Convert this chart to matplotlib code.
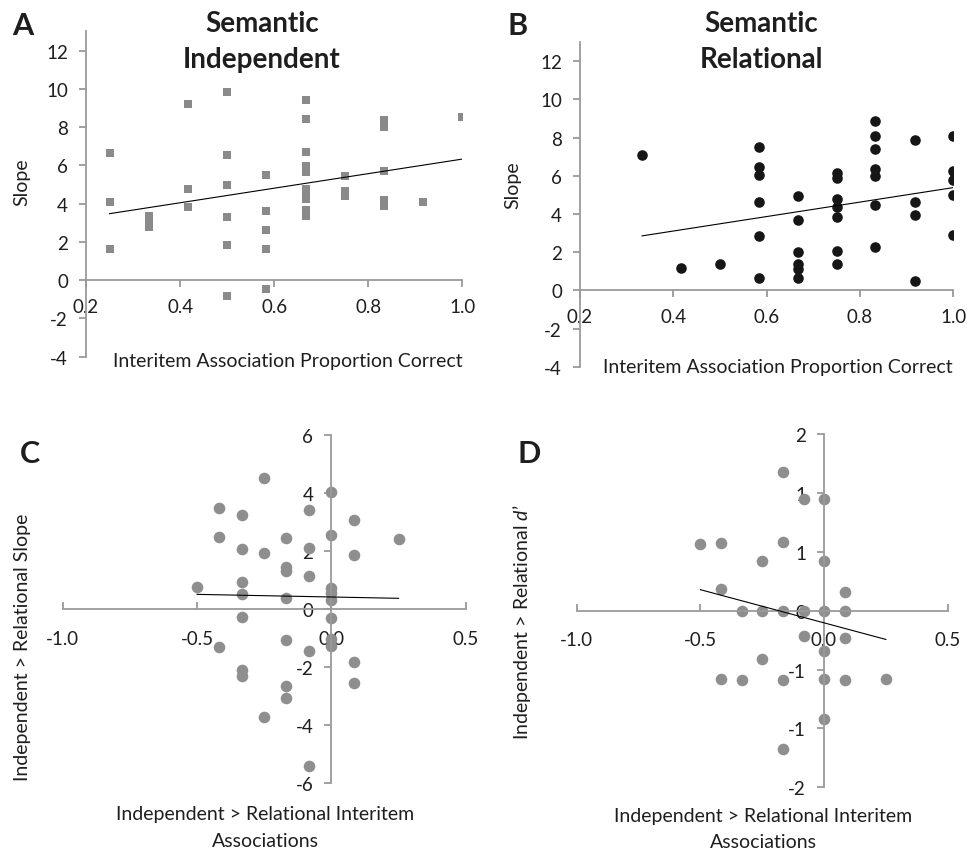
import numpy as np
import matplotlib
matplotlib.use('Agg')
import matplotlib.pyplot as plt
from matplotlib.ticker import FixedLocator, FixedFormatter

plt.rcParams['font.family'] = ['Lato', 'DejaVu Sans']
plt.rcParams['mathtext.fontset'] = 'custom'
plt.rcParams['mathtext.it'] = 'Lato:italic'
plt.rcParams['mathtext.rm'] = 'Lato'

# ---------------- data ----------------
# Panel A: Semantic Independent (x = proportion correct, y = slope)
a_x = [0.25, 0.25, 0.25,
       0.333, 0.333, 0.333,
       0.417, 0.417, 0.417,
       0.5, 0.5, 0.5, 0.5, 0.5, 0.5,
       0.583, 0.583, 0.583, 0.583, 0.583,
       0.667, 0.667, 0.667, 0.667, 0.667, 0.667, 0.667, 0.667, 0.667, 0.667,
       0.75, 0.75, 0.75,
       0.833, 0.833, 0.833, 0.833, 0.833,
       0.917,
       1.0]
a_y = [6.67, 4.11, 1.65,
       3.33, 3.05, 2.79,
       9.23, 4.74, 3.80,
       9.81, 6.55, 4.97, 3.28, 1.83, -0.85,
       5.52, 3.64, 2.60, 1.62, -0.44,
       9.44, 8.40, 6.72, 5.98, 5.63, 4.79, 4.49, 4.23, 3.68, 3.36,
       5.45, 4.67, 4.41,
       8.38, 8.01, 5.68, 4.18, 3.89,
       4.06,
       8.55]

# Panel B: Semantic Relational
b_x = [0.333,
       0.417,
       0.5,
       0.583, 0.583, 0.583, 0.583, 0.583, 0.583,
       0.667, 0.667, 0.667, 0.667, 0.667, 0.667,
       0.75, 0.75, 0.75, 0.75, 0.75, 0.75, 0.75,
       0.833, 0.833, 0.833, 0.833, 0.833, 0.833, 0.833,
       0.917, 0.917, 0.917, 0.917,
       1.0, 1.0, 1.0, 1.0, 1.0]
b_y = [7.08,
       1.19,
       1.40,
       7.49, 6.47, 6.05, 4.65, 2.85, 0.66,
       4.92, 3.67, 2.03, 1.36, 1.10, 0.66,
       6.14, 5.91, 4.78, 4.39, 3.85, 2.06, 1.36,
       8.89, 8.10, 7.40, 6.38, 6.00, 4.46, 2.27,
       7.87, 4.65, 3.95, 0.49,
       8.06, 6.23, 5.77, 5.00, 2.92]

# Panel C: Independent > Relational interitem associations vs slope difference
c_x = [-0.5,
       -0.417, -0.417, -0.417,
       -0.333, -0.333, -0.333, -0.333, -0.333, -0.333, -0.333,
       -0.25, -0.25, -0.25,
       -0.167, -0.167, -0.167, -0.167, -0.167, -0.167, -0.167,
       -0.083, -0.083, -0.083, -0.083, -0.083,
       0.0, 0.0, 0.0, 0.0, 0.0, 0.0, 0.0, 0.0,
       0.083, 0.083, 0.083, 0.083,
       0.25]
c_y = [0.75,
       3.46, 2.47, -1.30,
       3.22, 2.05, 0.92, 0.50, -0.29, -2.09, -2.32,
       4.52, 1.93, -3.73,
       2.44, 1.46, 1.31, 0.37, -1.06, -2.66, -3.07,
       3.41, 2.09, 1.15, -1.46, -5.39,
       4.02, 2.55, 0.71, 0.55, 0.32, -0.32, -1.03, -1.26,
       3.07, 1.87, -1.84, -2.56,
       2.41]

# Panel D: Independent > Relational interitem associations vs d' difference
d_x = [-0.5,
       -0.417, -0.417, -0.417,
       -0.333, -0.333,
       -0.25, -0.25, -0.25,
       -0.167, -0.167, -0.167, -0.167, -0.167,
       -0.083, -0.083, -0.083,
       0.0, 0.0, 0.0, 0.0, 0.0, 0.0,
       0.083, 0.083, 0.083, 0.083,
       0.25]
d_y = [0.76,
       0.77, 0.25, -0.77,
       0.0, -0.79,
       0.56, 0.0, -0.55,
       1.57, 0.78, 0.0, -0.79, -1.57,
       1.26, 0.0, -0.29,
       1.26, 0.56, 0.0, -0.46, -0.77, -1.23,
       0.21, 0.0, -0.31, -0.79,
       -0.77]

ab_xticks = [0.2, 0.4, 0.6, 0.8, 1.0]
ab_xticklabels = ['0.2', '0.4', '0.6', '0.8', '1.0']
ab_yticks = [-4, -2, 0, 2, 4, 6, 8, 10, 12]
ab_yticklabels = ['-4', '-2', '0', '2', '4', '6', '8', '10', '12']
cd_xticks = [-1.0, -0.5, 0.0, 0.5]
cd_xticklabels = ['-1.0', '-0.5', '0.0', '0.5']
c_yticks = [-6, -4, -2, 0, 2, 4, 6]
c_yticklabels = ['-6', '-4', '-2', '0', '2', '4', '6']
d_yticks = [-2, -4/3, -2/3, 0, 2/3, 4/3, 2]
d_yticklabels = ['-2', '-1', '-1', '0', '1', '1', '2']

# ---------------- figure ----------------
W, H = 967, 854
fig = plt.figure(figsize=(W / 100, H / 100), dpi=100)

def px_axes(left, top, right, bottom):
    return fig.add_axes([left / W, 1 - bottom / H, (right - left) / W, (bottom - top) / H])

AXC = '#9a9a9a'
TXT = '#1e1e1e'
TICK_FS = 13.5
LAB_FS = 14

def style(ax, xlim, ylim, xt, xtl, yt, ytl, xcross, ycross, xdir, xpad, ypad):
    ax.set_xlim(*xlim)
    ax.set_ylim(*ylim)
    ax.patch.set_visible(False)
    for s in ['top', 'right']:
        ax.spines[s].set_visible(False)
    ax.spines['left'].set_position(('data', xcross))
    ax.spines['bottom'].set_position(('data', ycross))
    for s in ['left', 'bottom']:
        ax.spines[s].set_color(AXC)
        ax.spines[s].set_linewidth(1.3)
    ax.xaxis.set_major_locator(FixedLocator(xt))
    ax.xaxis.set_major_formatter(FixedFormatter(xtl))
    ax.yaxis.set_major_locator(FixedLocator(yt))
    ax.yaxis.set_major_formatter(FixedFormatter(ytl))
    ax.tick_params(axis='y', direction='out', length=5, width=1.3, color=AXC,
                   pad=ypad, labelsize=TICK_FS, labelcolor=TXT)
    ax.tick_params(axis='x', direction=xdir, length=5, width=1.3, color=AXC,
                   pad=xpad, labelsize=TICK_FS, labelcolor=TXT)

def trend(ax, x, y, xmin, xmax):
    m, b = np.polyfit(x, y, 1)
    xs = np.array([xmin, xmax])
    ax.plot(xs, m * xs + b, color='black', lw=0.8, zorder=3)

# Panel A
axA = px_axes(86, 32.4, 462.3, 357.7)
style(axA, (0.2, 1.0), (-4, 13), ab_xticks, ab_xticklabels, ab_yticks, ab_yticklabels,
      0.2, 0, 'out', 8, 8)
axA.scatter(a_x, a_y, marker='s', s=36, color='#8a8a8c', linewidths=0, zorder=2)
trend(axA, a_x, a_y, min(a_x), max(a_x))

# Panel B
axB = px_axes(580, 43.2, 953.3, 367.7)
style(axB, (0.2, 1.0), (-4, 13), ab_xticks, ab_xticklabels, ab_yticks, ab_yticklabels,
      0.2, 0, 'out', 8, 8)
axB.scatter(b_x, b_y, marker='o', s=58, color='#161616', linewidths=0, zorder=2)
trend(axB, b_x, b_y, min(b_x), max(b_x))

# Panel C
axC = px_axes(62.7, 435.7, 465.7, 784.3)
style(axC, (-1.0, 0.5), (-6, 6), cd_xticks, cd_xticklabels, c_yticks, c_yticklabels,
      0.0, 0, 'in', 15, 8)
axC.scatter(c_x, c_y, marker='o', s=70, color='#8e8e8e', linewidths=0, zorder=2)
trend(axC, c_x, c_y, min(c_x), max(c_x))

# Panel D
axD = px_axes(576.7, 435, 947.7, 788.3)
style(axD, (-1.0, 0.5), (-2, 2), cd_xticks, cd_xticklabels, d_yticks, d_yticklabels,
      0.0, 0, 'in', 15, 8)
axD.scatter(d_x, d_y, marker='o', s=70, color='#8e8e8e', linewidths=0, zorder=2)
trend(axD, d_x, d_y, min(d_x), max(d_x))

def ftext(x, y, s, **kw):
    fig.text(x / W, 1 - y / H, s, **kw)

# Panel letters
for (lx, ly, lab) in [(12, 35, 'A'), (507, 35, 'B'), (20, 463, 'C'), (518, 463, 'D')]:
    ftext(lx, ly, lab, fontsize=22, fontweight='bold', color=TXT, ha='left', va='baseline')

# Titles
ttl_kw = dict(fontsize=20, fontweight='bold', color=TXT, ha='center', va='baseline')
ftext(262, 31.7, 'Semantic', **ttl_kw)
ftext(262, 68, 'Independent', **ttl_kw)
ftext(761, 31.7, 'Semantic', **ttl_kw)
ftext(761, 68, 'Relational', **ttl_kw)

# Axis labels
lab_kw = dict(fontsize=LAB_FS, color=TXT)
ftext(22, 182, 'Slope', rotation=90, ha='center', va='center', **lab_kw)
ftext(513, 185, 'Slope', rotation=90, ha='center', va='center', **lab_kw)
ftext(288, 362, 'Interitem Association Proportion Correct', ha='center', va='center', **lab_kw)
ftext(778, 368, 'Interitem Association Proportion Correct', ha='center', va='center', **lab_kw)

ftext(23, 647, 'Independent > Relational Slope', rotation=90, ha='center', va='center', **lab_kw)
ftext(522, 622, "Independent > Relational $d$\u2019", rotation=90, ha='center', va='center', **lab_kw)
ftext(265, 815, 'Independent > Relational Interitem', ha='center', va='center', **lab_kw)
ftext(265, 842, 'Associations', ha='center', va='center', **lab_kw)
ftext(763, 817, 'Independent > Relational Interitem', ha='center', va='center', **lab_kw)
ftext(763, 843, 'Associations', ha='center', va='center', **lab_kw)

fig.savefig('out.png', dpi=100)
